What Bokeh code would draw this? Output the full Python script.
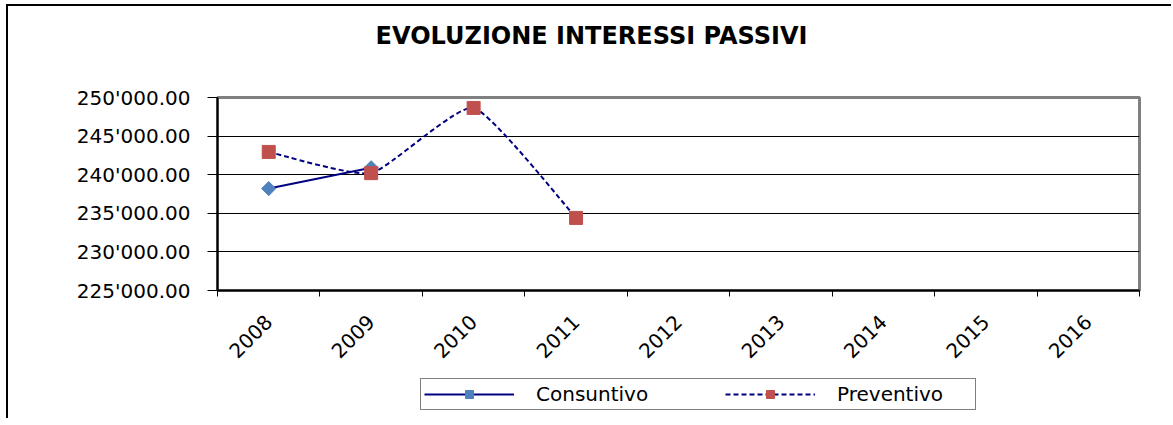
from math import pi
from bokeh.plotting import figure
from bokeh.layouts import column
from bokeh.models import Range1d, FixedTicker, Legend, LegendItem, Label
from bokeh.embed import file_html
from bokeh.resources import INLINE

# ---- data ----
years = ["2008", "2009", "2010", "2011", "2012", "2013", "2014", "2015", "2016"]
consuntivo = [238200, 240900]
preventivo = [242950, 240200, 248650, 234400]
y_ticks = [225000, 230000, 235000, 240000, 245000, 250000]
y_tick_labels = ["225'000.00", "230'000.00", "235'000.00", "240'000.00",
                 "245'000.00", "250'000.00"]
series_names = ["Consuntivo", "Preventivo"]
title_text = "EVOLUZIONE INTERESSI PASSIVI"

# category centres on a numeric scale (categories occupy [i, i+1])
xs = [i + 0.5 for i in range(len(years))]

NAVY = "#000080"
BLUE = "#4F81BD"
RED = "#C0504D"
FONT = "DejaVu Sans"
W = 1163
BL, BR = 209, 32          # left / right borders shared by all strips
FW = W - BL - BR          # frame width in pixels


def blank(h):
    f = figure(width=W, height=h, output_backend="svg", toolbar_location=None,
               x_range=Range1d(0, FW), y_range=Range1d(0, h),
               x_axis_type=None, y_axis_type=None,
               min_border_left=BL, min_border_right=BR,
               min_border_top=0, min_border_bottom=0,
               outline_line_color=None)
    f.background_fill_color = "white"
    f.border_fill_color = "white"
    return f


# ---- title strip ----
TH = 75
pt = blank(TH)
pt.add_layout(Label(x=374, y=TH - 29, text=title_text, text_align="center",
                    text_baseline="middle", text_font=FONT, text_font_size="24px",
                    text_font_style="bold", text_color="black"))

# ---- main chart ----
p = figure(width=W, height=293, output_backend="svg", toolbar_location=None,
           x_range=Range1d(0, len(years)), y_range=Range1d(y_ticks[0], y_ticks[-1]),
           min_border_left=BL, min_border_right=BR,
           min_border_top=16, min_border_bottom=84)
p.background_fill_color = "white"
p.border_fill_color = "white"
p.outline_line_color = "#808080"
p.outline_line_width = 3

xa = p.xaxis[0]
xa.ticker = FixedTicker(ticks=xs, minor_ticks=list(range(len(years) + 1)))
xa.major_label_overrides = {x: y for x, y in zip(xs, years)}
xa.major_tick_out = 0
xa.major_tick_in = 0
xa.minor_tick_out = 6
xa.minor_tick_in = 0
xa.minor_tick_line_color = "black"
xa.minor_tick_line_width = 1
xa.axis_line_color = "black"
xa.axis_line_width = 2
xa.major_label_orientation = pi / 4
xa.major_label_standoff = 22
xa.major_label_text_font = FONT
xa.major_label_text_font_size = "20px"
xa.major_label_text_color = "black"

ya = p.yaxis[0]
ya.ticker = FixedTicker(ticks=y_ticks)
ya.major_label_overrides = {t: s for t, s in zip(y_ticks, y_tick_labels)}
ya.minor_tick_line_color = None
ya.major_tick_out = 10
ya.major_tick_in = 0
ya.major_tick_line_color = "black"
ya.axis_line_color = "black"
ya.axis_line_width = 2
ya.major_label_standoff = 17
ya.major_label_text_font = FONT
ya.major_label_text_font_size = "20px"
ya.major_label_text_color = "black"

p.xgrid.visible = False
p.ygrid.grid_line_color = "black"
p.ygrid.grid_line_width = 1

# Consuntivo: solid line with diamonds
cx = xs[:len(consuntivo)]
C_LINE = dict(line_color=NAVY, line_width=2)
C_PT = dict(marker="square", angle=pi / 4, size=10, fill_color=BLUE, line_color=BLUE)
p.line(cx, consuntivo, **C_LINE)
p.scatter(cx, consuntivo, **C_PT)

# Preventivo: lightly smoothed dashed line (Bezier segments built from the data)
px = xs[:len(preventivo)]
py = preventivo
n = len(px)
k = 1 / 12  # smoothing tension


def at(a, i):
    return a[min(max(i, 0), n - 1)]


bx0, by0, bx1, by1, bcx0, bcy0, bcx1, bcy1 = [], [], [], [], [], [], [], []
for i in range(n - 1):
    bx0.append(px[i]); by0.append(py[i])
    bx1.append(px[i + 1]); by1.append(py[i + 1])
    bcx0.append(px[i] + (at(px, i + 1) - at(px, i - 1)) * k)
    bcy0.append(py[i] + (at(py, i + 1) - at(py, i - 1)) * k)
    bcx1.append(px[i + 1] - (at(px, i + 2) - at(px, i)) * k)
    bcy1.append(py[i + 1] - (at(py, i + 2) - at(py, i)) * k)

P_LINE = dict(line_color=NAVY, line_width=2, line_dash="5 3")
P_PT = dict(marker="square", size=13, fill_color=RED, line_color=RED)
p.bezier(x0=bx0, y0=by0, x1=bx1, y1=by1, cx0=bcx0, cy0=bcy0,
         cx1=bcx1, cy1=bcy1, **P_LINE)
p.scatter(px, py, **P_PT)

# ---- legend strip: key renderers carry the same series (they fall far outside
# this strip's small pixel range, so only their legend samples are seen) ----
LH = 44
pl = blank(LH)
k_c_line = pl.line(cx, consuntivo, **C_LINE)
k_c_pt = pl.scatter(cx, consuntivo, **C_PT)
k_p_line = pl.line(px, py, **P_LINE)
k_p_pt = pl.scatter(px, py, **P_PT)
legend = Legend(items=[LegendItem(label=series_names[0], renderers=[k_c_line, k_c_pt]),
                       LegendItem(label=series_names[1], renderers=[k_p_line, k_p_pt])],
                orientation="horizontal", location=(203, 8),
                padding=3, spacing=54, margin=0,
                glyph_width=90, glyph_height=20, label_standoff=22,
                label_width=135, label_height=20,
                label_text_font=FONT, label_text_font_size="20px",
                label_text_color="black",
                border_line_color="black", border_line_width=1.5,
                background_fill_color="white", background_fill_alpha=1)
pl.add_layout(legend, "center")

layout = column(pt, p, pl, spacing=0)
layout.styles = {"border-left": "2px solid black", "border-top": "2px solid black",
                 "margin-left": "6px", "margin-top": "4px"}

open("out.html", "w").write(file_html(layout, INLINE))
